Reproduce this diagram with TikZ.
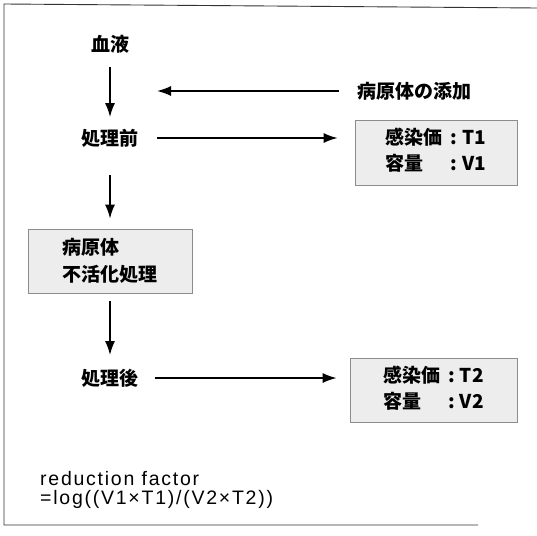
\documentclass[tikz,border=0pt]{standalone}
\usepackage{fontspec}
\setmainfont{Liberation Sans}
\newfontfamily\jp{Noto Sans CJK JP}
\usetikzlibrary{arrows.meta}
\begin{document}
\begin{tikzpicture}[x=1pt,y=-1pt,
  jtext/.style={inner sep=0pt, font=\jp\bfseries\fontsize{19pt}{26pt}\selectfont},
  greybox/.style={jtext, draw=black!45, fill=black!7, line width=0.6pt},
  arr/.style={-{Latex[length=14pt,width=10pt]}, line width=1.7pt},
  frameline/.style={line width=0.9pt, draw=black!80},
  latin/.style={anchor=base west, inner sep=0pt, font=\fontsize{19.5pt}{20pt}\selectfont\addfontfeature{LetterSpace=9}}]
\useasboundingbox (0,0) rectangle (537,535);
\draw[frameline] (537,8) -- (4,4) -- (4,525) -- (478,525);

\node[jtext] (blood) at (110,44) {血液};
\node[jtext] (pre) at (110,138) {処理前};
\node[greybox, minimum width=164pt, minimum height=64pt, align=left,
      font=\jp\bfseries\fontsize{19pt}{27pt}\selectfont] (inact) at (110,261) {病原体\\不活化処理};
\node[jtext] (post) at (110,378) {処理後};
\node[jtext] (add) at (414,91) {病原体の添加};
\coordinate (addtip) at (157,91);

\node[greybox, minimum width=162pt, minimum height=65pt] (b1) at (436,152.5)
  {\begin{tabular}{@{}l@{\hspace{8pt}}l@{}}感染価&:\hspace{5pt}T1\\容量&:\hspace{5pt}V1\end{tabular}};
\node[greybox, minimum width=167pt, minimum height=64pt] (b3) at (433.5,390)
  {\begin{tabular}{@{}l@{\hspace{8pt}}l@{}}感染価&:\hspace{5pt}T2\\容量&:\hspace{5pt}V2\end{tabular}};

\draw[arr, shorten <=13.5pt, shorten >=11.5pt] (blood) -- (pre);
\draw[arr, shorten <=28pt, shorten >=10pt] (pre) -- (inact);
\draw[arr, shorten <=8pt, shorten >=13.5pt] (inact) -- (post);
\draw[arr, shorten <=18pt] (add) -- (addtip);
\draw[arr, shorten <=18.5pt, shorten >=17pt] (pre) -- (pre -| b1.west);
\draw[arr, shorten <=16.5pt, shorten >=13pt] (post) -- (post -| b3.west);

\node[latin] (rf1) at (40,485) {reduction factor};
\node[latin] (rf2) at (40,504) {=log((V1×T1)/(V2×T2))};
\end{tikzpicture}
\end{document}
